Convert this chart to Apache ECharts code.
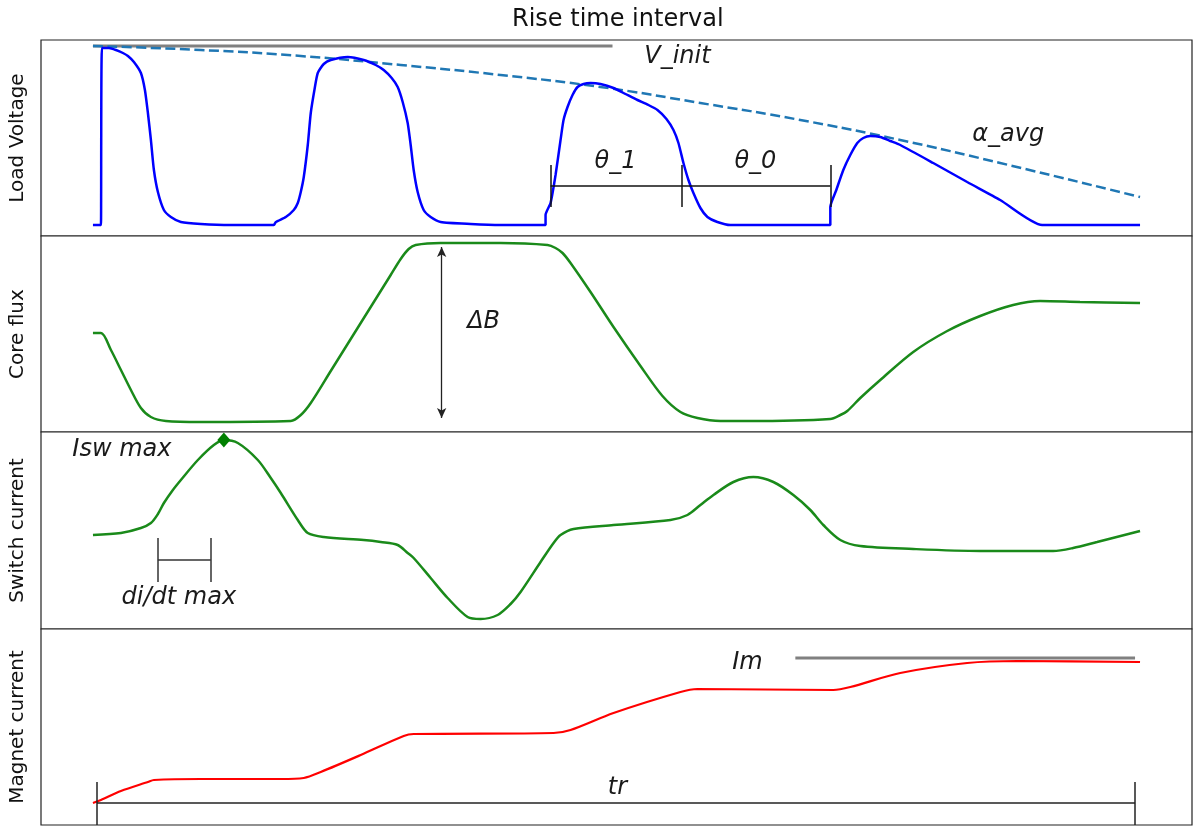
<!DOCTYPE html>
<html>
<head>
<meta charset="utf-8">
<title>Rise time interval</title>
<script src="https://cdn.jsdelivr.net/npm/echarts@6/dist/echarts.min.js"></script>
<style>
  html, body { margin: 0; padding: 0; background: #fff; }
  #chart { width: 1194px; height: 828px; }
</style>
</head>
<body>
<div id="chart"></div>
<script>
// time axis runs 0..1152, each panel's value axis is its own height scale
var tMin = 0, tMax = 1152;

// Load voltage (blue) and the alpha_avg envelope (dashed)
var loadVoltage = [
    [52, 11], [59, 11], [60, 11], [61, 188], [68, 188], [75, 186], [82, 183], [87, 180],
    [93, 174], [100, 163], [104, 146], [107, 123], [110, 96], [113, 66], [117, 44],
    [123, 26], [130, 19], [140, 14], [160, 12], [190, 11], [233, 11], [235, 14],
    [245, 19], [253, 26], [257, 33], [260, 44], [263, 59], [267, 91], [270, 123],
    [274, 148], [277, 163], [283, 172], [290, 176], [307, 179], [323, 176], [335, 171],
    [343, 166], [351, 158], [357, 149], [362, 134], [367, 113], [370, 91], [373, 66],
    [377, 44], [383, 26], [390, 19], [400, 14], [430, 12], [460, 11], [505, 11],
    [505, 21], [510, 33], [515, 61], [520, 96], [523, 116], [527, 129], [532, 141],
    [537, 149], [543, 152], [550, 153], [560, 152], [573, 148], [585, 142], [597, 136],
    [608, 131], [617, 126], [626, 117], [633, 106], [638, 93], [643, 73], [648, 56],
    [653, 43], [660, 28], [667, 19], [677, 14], [690, 11], [790, 11], [790, 29],
    [796, 46], [803, 66], [810, 81], [817, 93], [823, 98], [830, 100], [840, 99],
    [850, 95], [860, 91], [893, 73], [927, 54], [960, 36], [1002, 11], [1100, 11]
];
var alphaAvg = [
    [52, 190], [160, 186], [260, 180], [360, 171], [460, 161], [560, 149],
    [660, 133], [760, 116], [860, 96], [960, 73], [1100, 39]
];
var vInit = [[52, 190], [572, 190]];
var thetaBar = { y: 50, lo: 29, hi: 71, ticks: [510, 641, 790] };

// Core flux (green)
var coreFlux = [
    [52, 99], [60, 99], [70, 82], [80, 62], [90, 42], [100, 24], [110, 15], [125, 11],
    [160, 10], [250, 11], [260, 17], [270, 29], [290, 61], [310, 93], [330, 125],
    [350, 157], [360, 173], [368, 183], [375, 187], [400, 189], [460, 189], [507, 187],
    [515, 184], [522, 179], [530, 169], [550, 140], [573, 105], [600, 66], [622, 36],
    [640, 20], [657, 14], [680, 11], [707, 11], [790, 13], [800, 17], [807, 21],
    [820, 34], [840, 52], [873, 80], [907, 101], [940, 116], [973, 127], [1000, 131],
    [1040, 130], [1100, 129]
];
var deltaB = { t: 401, from: 185, to: 14 };

// Switch current (green)
var switchCurrent = [
    [52, 94], [80, 96], [100, 101], [110, 106], [117, 115], [123, 126], [132, 139],
    [140, 149], [157, 169], [173, 184], [183, 189], [197, 186], [217, 169], [230, 151],
    [240, 136], [257, 109], [267, 96], [283, 92], [323, 89], [340, 87], [357, 84],
    [367, 76], [373, 71], [390, 51], [407, 31], [427, 12], [440, 10], [457, 14],
    [470, 25], [480, 37], [500, 67], [513, 86], [520, 94], [533, 100], [573, 104],
    [630, 109], [647, 114], [660, 124], [673, 134], [693, 147], [713, 152], [733, 147],
    [753, 134], [770, 119], [783, 104], [800, 89], [820, 83], [873, 80], [940, 78],
    [1013, 78], [1033, 81], [1057, 87], [1100, 98]
];
var iswMax = [[183, 189]];
var didtBar = { y: 69, lo: 47, hi: 91, ticks: [117, 170] };

// Magnet current (red)
var magnetCurrent = [
    [52, 22], [60, 25], [80, 34], [107, 43], [113, 45], [160, 46], [240, 46], [263, 47],
    [280, 53], [320, 70], [363, 89], [373, 91], [513, 92], [530, 95], [573, 112],
    [640, 133], [657, 136], [793, 135], [810, 138], [860, 152], [927, 162], [977, 164],
    [1100, 163]
];
var imLine = [[755, 167], [1095, 167]];
var trBar = { y: 22, lo: 0, hi: 43, ticks: [56, 1095] };

// annotation texts: [t, value, text]
var voltageNotes = [[637, 179, 'V_init'], [575, 74, 'θ_1'], [715, 74, 'θ_0'], [968, 101, 'α_avg']];
var fluxNotes = [[443, 110, 'ΔB']];
var switchNotes = [[81, 179, 'Isw max'], [138, 31, 'di/dt max']];
var magnetNotes = [[707, 162, 'Im'], [577, 37, 'tr']];

var panelNames = ['Load Voltage', 'Core flux', 'Switch current', 'Magnet current'];
var panelTops = [40, 236, 432, 629];
var panelHeights = [196, 196, 197, 196];

var FONT = 'DejaVu Sans';
var TXT = '#111';

function bar(spec) {
    var lines = [[{coord: [spec.ticks[0], spec.y]}, {coord: [spec.ticks[spec.ticks.length - 1], spec.y]}]];
    spec.ticks.forEach(function (t) {
        lines.push([{coord: [t, spec.lo]}, {coord: [t, spec.hi]}]);
    });
    return lines;
}

function notes(idx, arr) {
    return {
        type: 'scatter',
        xAxisIndex: idx, yAxisIndex: idx,
        symbolSize: 1,
        itemStyle: {color: 'rgba(0,0,0,0)', opacity: 1},
        silent: true,
        z: 5,
        label: {
            show: true, position: 'inside',
            formatter: function (p) { return p.value[2]; },
            fontFamily: FONT, fontStyle: 'italic', fontSize: 24, color: '#1a1a1a'
        },
        data: arr
    };
}

var myChart = echarts.init(document.getElementById('chart'));

var grids = [], xAxes = [], yAxes = [];
panelNames.forEach(function (name, i) {
    grids.push({
        left: 40, right: 2, top: panelTops[i], height: panelHeights[i],
        show: true, borderColor: '#222', borderWidth: 1.2, backgroundColor: '#fff'
    });
    xAxes.push({
        type: 'value', gridIndex: i, min: tMin, max: tMax, show: false
    });
    yAxes.push({
        type: 'value', gridIndex: i, min: 0, max: panelHeights[i],
        name: name, nameLocation: 'middle', nameGap: 13, nameRotate: 90,
        nameTextStyle: {fontFamily: FONT, fontSize: 20, color: TXT},
        axisLine: {show: false}, axisTick: {show: false},
        axisLabel: {show: false}, splitLine: {show: false}
    });
});

var option = {
    animation: false,
    backgroundColor: '#fff',
    textStyle: {fontFamily: FONT},
    title: {
        text: 'Rise time interval', left: 507, top: 3,
        textStyle: {fontFamily: FONT, fontSize: 24, fontWeight: 'normal', color: TXT}
    },
    grid: grids,
    xAxis: xAxes,
    yAxis: yAxes,
    series: [
        {
            type: 'line', xAxisIndex: 0, yAxisIndex: 0,
            data: vInit, showSymbol: false, silent: true,
            lineStyle: {color: '#808080', width: 3}
        },
        {
            type: 'line', xAxisIndex: 0, yAxisIndex: 0,
            data: alphaAvg, showSymbol: false, smooth: true, silent: true,
            lineStyle: {color: '#1f77b4', width: 2.5, type: [10, 4.5]}
        },
        {
            type: 'line', xAxisIndex: 0, yAxisIndex: 0,
            data: loadVoltage, showSymbol: false, smooth: 0.2,
            lineStyle: {color: '#0000ff', width: 2.5},
            markLine: {
                silent: true, symbol: 'none', label: {show: false},
                lineStyle: {color: '#111', width: 1.5, type: 'solid'},
                data: bar(thetaBar)
            }
        },
        notes(0, voltageNotes),
        {
            type: 'line', xAxisIndex: 1, yAxisIndex: 1,
            data: coreFlux, showSymbol: false, smooth: 0.3,
            lineStyle: {color: '#1a8a1a', width: 2.5},
            markLine: {
                silent: true, symbol: ['arrow', 'arrow'], symbolSize: [7, 10],
                label: {show: false},
                lineStyle: {color: '#222', width: 1.3, type: 'solid'},
                data: [[{coord: [deltaB.t, deltaB.from]}, {coord: [deltaB.t, deltaB.to]}]]
            }
        },
        notes(1, fluxNotes),
        {
            type: 'line', xAxisIndex: 2, yAxisIndex: 2,
            data: switchCurrent, showSymbol: false, smooth: 0.3,
            lineStyle: {color: '#1a8a1a', width: 2.5},
            markLine: {
                silent: true, symbol: 'none', label: {show: false},
                lineStyle: {color: '#333', width: 1.5, type: 'solid'},
                data: bar(didtBar)
            }
        },
        {
            type: 'scatter', xAxisIndex: 2, yAxisIndex: 2,
            data: iswMax, symbol: 'diamond', symbolSize: [13, 15],
            itemStyle: {color: '#007f00', opacity: 1}, z: 4
        },
        notes(2, switchNotes),
        {
            type: 'line', xAxisIndex: 3, yAxisIndex: 3,
            data: imLine, showSymbol: false, silent: true,
            lineStyle: {color: '#808080', width: 3}
        },
        {
            type: 'line', xAxisIndex: 3, yAxisIndex: 3,
            data: magnetCurrent, showSymbol: false, smooth: 0.3,
            lineStyle: {color: '#ff0000', width: 2.2},
            markLine: {
                silent: true, symbol: 'none', label: {show: false},
                lineStyle: {color: '#222', width: 1.5, type: 'solid'},
                data: bar(trBar)
            }
        },
        notes(3, magnetNotes)
    ]
};

myChart.setOption(option);
</script>
</body>
</html>
